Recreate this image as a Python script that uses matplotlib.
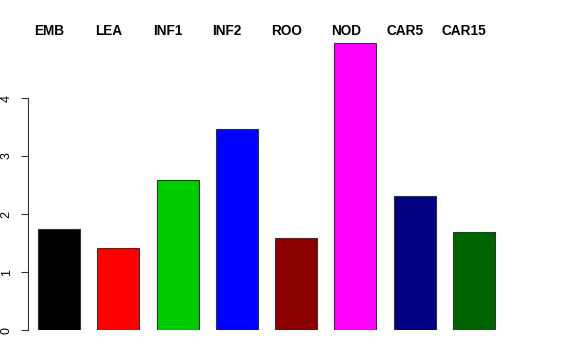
import matplotlib
matplotlib.use("Agg")
from matplotlib import pyplot as plt

labels = ["EMB", "LEA", "INF1", "INF2", "ROO", "NOD", "CAR5", "CAR15"]
values = [1.74, 1.42, 2.59, 3.46, 1.58, 4.95, 2.31, 1.69]
colors = ["black", "#FF0000", "#00CD00", "#0000FF", "#8B0000", "#FF00FF", "#000080", "#006400"]

plt.rcParams["font.family"] = ["Liberation Sans", "DejaVu Sans"]

fig = plt.figure(figsize=(5.76, 3.6), dpi=100)
ax = fig.add_axes([28 / 576, 30 / 360, 492 / 576, 319 / 360])

pos = [0.169 + i for i in range(len(values))]
ax.bar(pos, values, width=0.708, align="edge", color=colors,
       edgecolor="#333333", linewidth=0.8)

for p, lab in zip(pos, labels):
    ax.text(p + 0.19, 5.16, lab, ha="center", va="center",
            fontsize=9.8, fontweight="bold")

ax.set_xlim(0, 8.3)
ax.set_ylim(0, 5.5)
ax.set_yticks([0, 1, 2, 3, 4])
ax.set_yticklabels(["0", "1", "2", "3", "4"], rotation=90, va="center")
ax.tick_params(axis="y", length=5, width=0.8, pad=6, labelsize=9, color="#333333")
ax.spines["left"].set_bounds(0, 4)
ax.spines["left"].set_color("#333333")
ax.spines["left"].set_linewidth(0.8)
for s in ["top", "right", "bottom"]:
    ax.spines[s].set_visible(False)
ax.set_xticks([])

fig.savefig("out.png", dpi=100)
